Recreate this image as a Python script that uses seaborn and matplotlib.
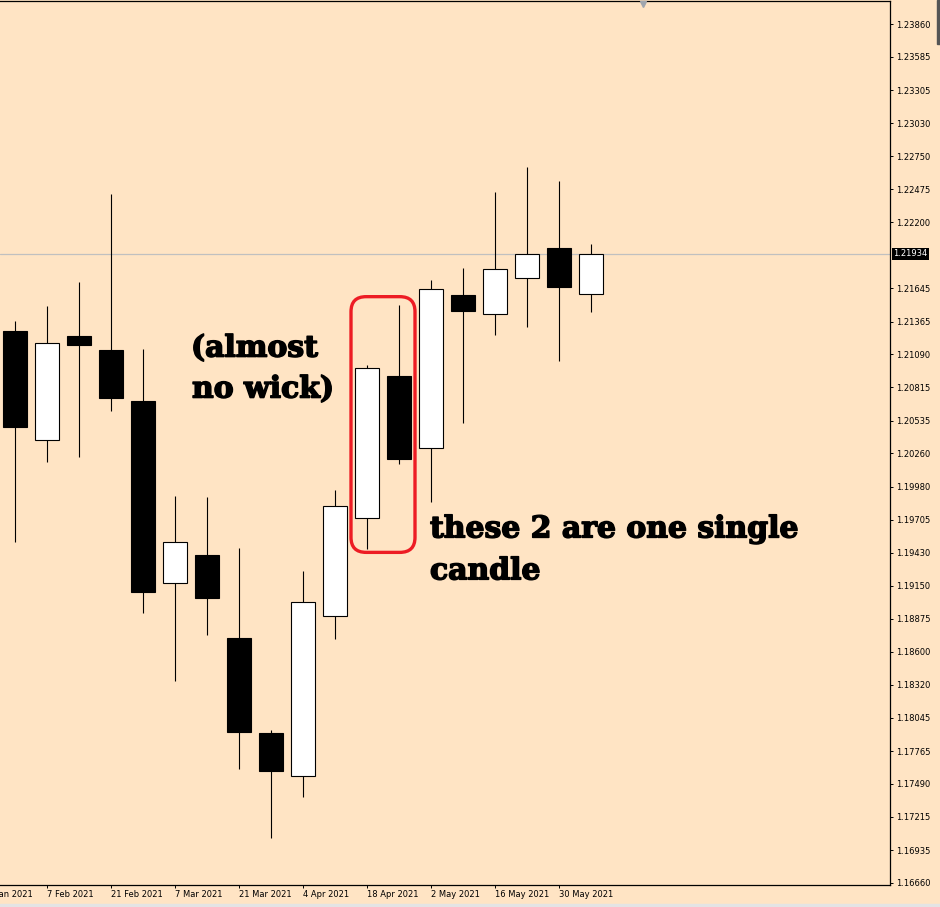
import numpy as np
import pandas as pd
import seaborn as sns
import matplotlib.pyplot as plt
import matplotlib.patheffects as pe
from matplotlib.patches import FancyBboxPatch, Rectangle


# weekly EURUSD candles
weeks = ["31 Jan 2021", "7 Feb 2021", "14 Feb 2021", "21 Feb 2021", "28 Feb 2021",
         "7 Mar 2021", "14 Mar 2021", "21 Mar 2021", "28 Mar 2021", "4 Apr 2021",
         "11 Apr 2021", "18 Apr 2021", "25 Apr 2021", "2 May 2021", "9 May 2021",
         "16 May 2021", "23 May 2021", "30 May 2021", "6 Jun 2021"]
opens = [1.21287, 1.20373, 1.21245, 1.21128, 1.20700, 1.19172, 1.19407, 1.18714, 1.17915, 1.17554,
         1.18895, 1.19717, 1.20907, 1.20304, 1.21586, 1.21427, 1.21728, 1.21980, 1.21594]
highs = [1.21371, 1.21496, 1.21697, 1.22435, 1.21133, 1.19904, 1.19895, 1.19465, 1.17942, 1.19275,
         1.19954, 1.20999, 1.21505, 1.21714, 1.21815, 1.22452, 1.22661, 1.22544, 1.22016]
lows = [1.19521, 1.20191, 1.20233, 1.20619, 1.18926, 1.18356, 1.18741, 1.17618, 1.17040, 1.17383,
        1.18708, 1.19457, 1.20169, 1.19856, 1.20513, 1.21256, 1.21323, 1.21038, 1.21446]
closes = [1.20485, 1.21186, 1.21172, 1.20728, 1.19102, 1.19516, 1.19051, 1.17928, 1.17601, 1.19013,
          1.19817, 1.20974, 1.20216, 1.21636, 1.21457, 1.21804, 1.21930, 1.21658, 1.21934]

xtick_labels = ["24 Jan 2021", "7 Feb 2021", "21 Feb 2021", "7 Mar 2021", "21 Mar 2021",
                "4 Apr 2021", "18 Apr 2021", "2 May 2021", "16 May 2021", "30 May 2021"]
ytick_vals = [1.23860, 1.23585, 1.23305, 1.23030, 1.22750, 1.22475, 1.22200, 1.21645, 1.21365,
              1.21090, 1.20815, 1.20535, 1.20260, 1.19980, 1.19705, 1.19430, 1.19150, 1.18875,
              1.18600, 1.18320, 1.18045, 1.17765, 1.17490, 1.17215, 1.16935, 1.16660]
last_price = 1.21934

df = pd.DataFrame({"week": weeks, "open": opens, "high": highs, "low": lows, "close": closes})
df["x"] = np.arange(len(df))
df["up"] = df["close"] >= df["open"]

bg = "#FFE4C4"
sns.set_theme(style="white", rc={"axes.facecolor": bg, "figure.facecolor": bg})
plt.rcParams['font.family'] = ['DejaVu Sans']

fig = plt.figure(figsize=(9.4, 9.07), dpi=100)
ax = fig.add_axes([0, 22 / 907, 890 / 940, 884 / 907])
ax.set_facecolor(bg)

# wicks then bodies
ax.vlines(df["x"], df["low"], df["high"], color="black", lw=0.8, zorder=2)
body_bottom = df[["open", "close"]].min(axis=1)
body_height = (df["close"] - df["open"]).abs()
ax.bar(df["x"], body_height, bottom=body_bottom, width=0.74,
       color=np.where(df["up"], "white", "black"), edgecolor="black", linewidth=0.8, zorder=3)

ax.axhline(last_price, color="#c0c0c0", lw=0.9, zorder=1)

ax.set_xlim(-0.46875, 27.34375)
ax.set_ylim(1.166431, 1.240528)

# axes / spines
ax.spines["left"].set_visible(False)
for s in ["top", "right", "bottom"]:
    ax.spines[s].set_color("black")
    ax.spines[s].set_linewidth(0.9)

ax.yaxis.tick_right()
ax.set_yticks(ytick_vals, labels=[f"{v:.5f}" for v in ytick_vals])
ax.tick_params(axis="y", direction="out", length=2.5, width=0.7, pad=2, labelsize=6,
               colors="black", right=True, left=False)

tick_pos = np.arange(-1, len(df), 2)
ax.set_xticks(tick_pos[1:], labels=xtick_labels[1:])
ax.tick_params(axis="x", direction="out", length=2.5, width=0.7, pad=1.2, labelsize=6,
               colors="black", bottom=True)
for lab in ax.get_xticklabels():
    lab.set_ha("left")
# first label sits left of the window, only its tail shows
ax.annotate(xtick_labels[0], xy=(tick_pos[0], 0), xycoords=("data", "axes fraction"),
            xytext=(0, -3.7), textcoords="offset points", ha="left", va="top",
            fontsize=6, color="black", annotation_clip=False)

# current price tag
ax.annotate(f"{last_price:.5f}", xy=(1, last_price), xycoords=("axes fraction", "data"),
            xytext=(2.2, 0), textcoords="offset points", ha="left", va="center",
            fontsize=6, color="white",
            bbox=dict(boxstyle="square,pad=0.18", fc="black", ec="none"))

# chart shift marker
ax.plot([643 / 890], [0.997], marker="v", color="#a0a6ae", ms=5, transform=ax.transAxes,
        clip_on=False, zorder=5)

# hand annotations
note = dict(family="DejaVu Serif", weight="bold", size=21.5, color="black",
            transform=ax.transAxes, ha="left", va="baseline",
            path_effects=[pe.withStroke(linewidth=1.1, foreground="black")])
ax.text(191 / 890, (885 - 356) / 885, "(almost", **note)
ax.text(192 / 890, (885 - 397) / 885, "no wick)", **note)
ax.text(430 / 890, (885 - 537) / 885, "these 2 are one single", **note)
ax.text(430 / 890, (885 - 579) / 885, "candle", **note)

box = FancyBboxPatch((351 / 890, (885 - 552) / 885), 64 / 890, 256 / 885,
                     boxstyle="round,pad=0,rounding_size=0.017", transform=ax.transAxes,
                     fill=False, edgecolor="#ED1C24", linewidth=2.4, zorder=6)
ax.add_patch(box)

# window chrome
fig.patches.append(Rectangle((0, 0), 1, 3 / 907, transform=fig.transFigure,
                             color="#e4e4e4", zorder=0))
fig.patches.append(Rectangle((937 / 940, 1 - 44 / 907), 3 / 940, 44 / 907,
                             transform=fig.transFigure, color="#555555", zorder=0))

plt.savefig("out.png", dpi=100, facecolor=bg)
